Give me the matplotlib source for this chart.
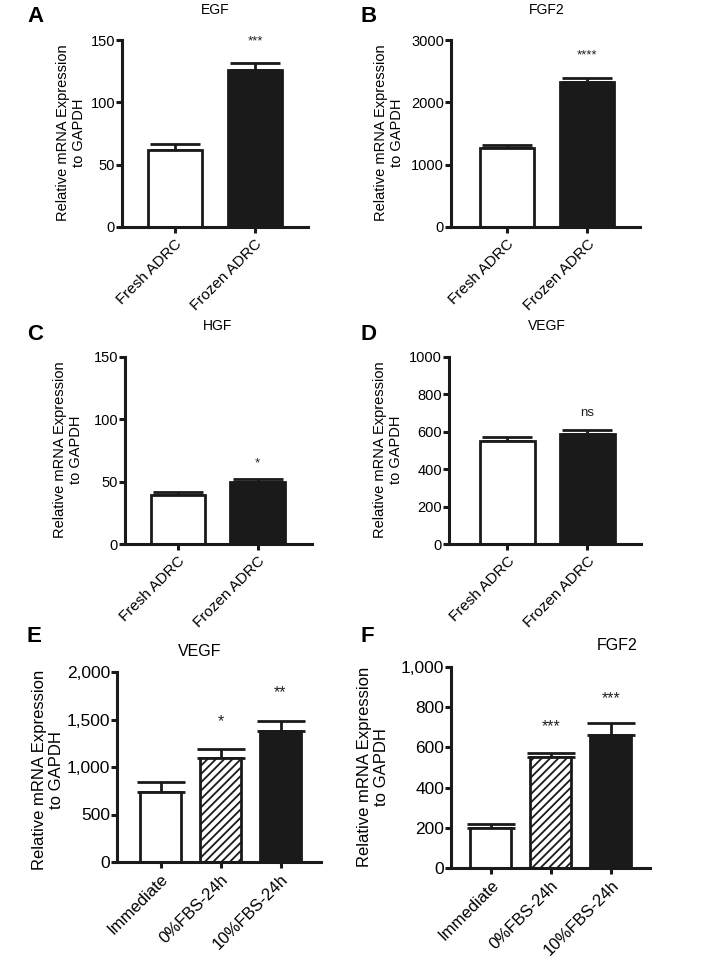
import matplotlib
matplotlib.use("Agg")
import matplotlib.pyplot as plt

plt.rcParams['font.family'] = ['Liberation Sans', 'DejaVu Sans']
plt.rcParams['hatch.linewidth'] = 1.3

# data
groups2 = ["Fresh ADRC", "Frozen ADRC"]
groups3 = ["Immediate", "0%FBS-24h", "10%FBS-24h"]

egf = [61.4, 126.2]
egf_err = [5.3, 5.1]
fgf2 = [1275, 2330]
fgf2_err = [43, 54]
hgf = [39.4, 50.1]
hgf_err = [2.1, 1.9]
vegf = [550, 586]
vegf_err = [23, 21]
vegf_t = [740, 1100, 1380]
vegf_t_err = [100, 88, 105]
fgf2_t = [200, 554, 662]
fgf2_t_err = [21, 20, 58]

sig_egf = ["", "***"]
sig_fgf2 = ["", "****"]
sig_hgf = ["", "*"]
sig_vegf = ["", "ns"]
sig_vegf_t = ["", "*", "**"]
sig_fgf2_t = ["", "***", "***"]

W, H = 724, 967
fig = plt.figure(figsize=(W / 100, H / 100), dpi=100)


def add_ax(l, r, t, b):
    return fig.add_axes([l / W, 1 - b / H, (r - l) / W, (b - t) / H])


def panel(box, vals, errs, names, ymax, yticks, yticklabels, xlim,
          sig, sig_y, tick_fs, xtick_fs, cap):
    ax = add_ax(*box)
    x = list(range(len(vals)))
    faces = ['white', 'white', '#1a1a1a'] if len(vals) == 3 else ['white', '#1a1a1a']
    hatches = [None, '////', None] if len(vals) == 3 else [None, None]
    for i in x:
        ax.bar(i, vals[i], width=0.68, color=faces[i], edgecolor='#1a1a1a',
               linewidth=2.0, hatch=hatches[i], zorder=2)
    ax.errorbar(x, vals, yerr=[[0] * len(vals), errs], fmt='none',
                ecolor='#1a1a1a', elinewidth=2.0, capsize=cap, capthick=2.0,
                zorder=1)
    for i in x:
        if sig[i]:
            ax.text(i, sig_y[i], sig[i], ha='center', va='center',
                    fontsize=tick_fs - 1, color='#222222')
    ax.set_ylim(0, ymax)
    ax.set_xlim(*xlim)
    ax.set_yticks(yticks)
    ax.set_yticklabels(yticklabels, fontsize=tick_fs)
    ax.set_xticks(x)
    ax.set_xticklabels(names, fontsize=xtick_fs, rotation=45, ha='right',
                       rotation_mode='anchor')
    for s in ['top', 'right']:
        ax.spines[s].set_visible(False)
    for s in ['left', 'bottom']:
        ax.spines[s].set_linewidth(2.2)
        ax.spines[s].set_color('#1a1a1a')
    ax.tick_params(width=2.2, length=4, color='#1a1a1a', pad=1)
    ax.tick_params(axis='x', pad=3)
    return ax


ylab = "Relative mRNA Expression\nto GAPDH"

# A
panel((122, 308, 40, 227), egf, egf_err, groups2, 150, [0, 50, 100, 150],
      ["0", "50", "100", "150"], (-0.66, 1.66), sig_egf, [0, 149],
      10.5, 11, 18)
fig.text(215 / W, 1 - 10 / H, "EGF", ha='center', va='center', fontsize=10)
fig.text(71 / W, 1 - 133 / H, ylab, ha='center', va='center', rotation=90,
         fontsize=10.5, multialignment='center')
fig.text(27 / W, 1 - 17 / H, "A", ha='left', va='center', fontsize=16,
         fontweight='bold')

# B
panel((451, 640, 40, 227), fgf2, fgf2_err, groups2, 3000,
      [0, 1000, 2000, 3000], ["0", "1000", "2000", "3000"], (-0.7, 1.66),
      sig_fgf2, [0, 2760], 10.5, 11, 18)
fig.text(547 / W, 1 - 10 / H, "FGF2", ha='center', va='center', fontsize=10)
fig.text(389 / W, 1 - 133 / H, ylab, ha='center', va='center', rotation=90,
         fontsize=10.5, multialignment='center')
fig.text(360 / W, 1 - 17 / H, "B", ha='left', va='center', fontsize=16,
         fontweight='bold')

# C
panel((125, 312, 357, 544), hgf, hgf_err, groups2, 150, [0, 50, 100, 150],
      ["0", "50", "100", "150"], (-0.66, 1.68), sig_hgf, [0, 65],
      10.5, 11, 18)
fig.text(218 / W, 1 - 326 / H, "HGF", ha='center', va='center', fontsize=10)
fig.text(68 / W, 1 - 450 / H, ylab, ha='center', va='center', rotation=90,
         fontsize=10.5, multialignment='center')
fig.text(27 / W, 1 - 334 / H, "C", ha='left', va='center', fontsize=16,
         fontweight='bold')

# D
panel((449, 641, 357, 544), vegf, vegf_err, groups2, 1000,
      [0, 200, 400, 600, 800, 1000],
      ["0", "200", "400", "600", "800", "1000"], (-0.73, 1.67), sig_vegf,
      [0, 700], 10.5, 11, 18)
fig.text(547 / W, 1 - 326 / H, "VEGF", ha='center', va='center', fontsize=10)
fig.text(388 / W, 1 - 450 / H, ylab, ha='center', va='center', rotation=90,
         fontsize=10.5, multialignment='center')
fig.text(360 / W, 1 - 334 / H, "D", ha='left', va='center', fontsize=16,
         fontweight='bold')

# E
panel((117, 321, 672, 862), vegf_t, vegf_t_err, groups3, 2000,
      [0, 500, 1000, 1500, 2000], ["0", "500", "1,000", "1,500", "2,000"],
      (-0.725, 2.675), sig_vegf_t, [0, 1480, 1780], 12.5, 12, 17)
fig.text(200 / W, 1 - 651 / H, "VEGF", ha='center', va='center', fontsize=11.5)
fig.text(48 / W, 1 - 770 / H, ylab, ha='center', va='center', rotation=90,
         fontsize=12, multialignment='center')
fig.text(27 / W, 1 - 636 / H, "E", ha='left', va='center', fontsize=16,
         fontweight='bold')

# F
panel((451, 650, 667, 868), fgf2_t, fgf2_t_err, groups3, 1000,
      [0, 200, 400, 600, 800, 1000],
      ["0", "200", "400", "600", "800", "1,000"], (-0.66, 2.65), sig_fgf2_t,
      [0, 705, 845], 12.5, 12, 17)
fig.text(617 / W, 1 - 645 / H, "FGF2", ha='center', va='center', fontsize=11.5)
fig.text(373 / W, 1 - 767 / H, ylab, ha='center', va='center', rotation=90,
         fontsize=12, multialignment='center')
fig.text(360 / W, 1 - 636 / H, "F", ha='left', va='center', fontsize=16,
         fontweight='bold')

fig.savefig("out.png", dpi=100, facecolor='white')
